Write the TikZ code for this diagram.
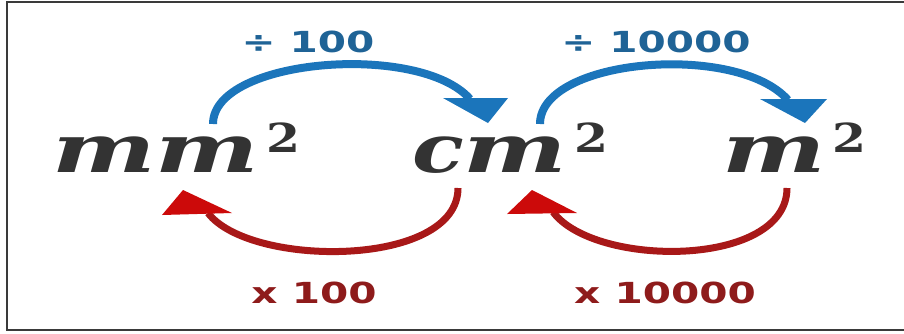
\documentclass[tikz,border=0pt]{standalone}
\usepackage{fontspec}
\newfontfamily\lblfont{DejaVu Sans}
\newfontfamily\unitfont{DejaVu Serif}
\definecolor{unitgray}{HTML}{333333}
\definecolor{arcblue}{HTML}{1B75BB}
\definecolor{txtblue}{HTML}{1F6396}
\definecolor{arcred}{HTML}{A81818}
\definecolor{headred}{HTML}{CC0A0A}
\definecolor{txtred}{HTML}{8E1B1B}
\definecolor{framecol}{HTML}{3A3A3A}
\newcommand\sqtwo{\hspace{7pt}\raisebox{20pt}{\scalebox{1.22}[1]{\fontsize{40}{40}\selectfont\bfseries\upshape 2}}}
\newcommand\mw{\scalebox{1.46}[1]{m}}
\newcommand\cw{\scalebox{1.27}[1]{c}}
\tikzset{
  unit/.style={inner sep=0pt, outer sep=0pt, anchor=base west, text=unitgray,
    font=\unitfont\fontsize{67}{67}\selectfont\bfseries\itshape},
  lbl/.style={inner sep=0pt, outer sep=0pt, anchor=base,
    font=\lblfont\bfseries\fontsize{29}{29}\selectfont},
  bluearc/.style={draw=arcblue, line width=8pt, line cap=butt},
  redarc/.style={draw=arcred, line width=7pt, line cap=butt},
  bluehead/.style={fill=arcblue},
  redhead/.style={fill=headred}
}
\begin{document}
\begin{tikzpicture}[x=1pt,y=-1pt]
\useasboundingbox (0,0) rectangle (904,333);
\draw[framecol, line width=2pt] (904,1.5) -- (6.5,1.5) -- (6.5,330) -- (904,330);

% units
\node[unit] (mm) at (52,172) {\mw\mw\sqtwo};
\node[unit] (cm) at (412,172) {\cw\mw\sqtwo};
\node[unit] (m)  at (722,172) {\mw\sqtwo};

% labels
\node[lbl, text=txtblue] (d100)   at (308,52)  {\scalebox{1.4}[1]{÷ 100}};
\node[lbl, text=txtblue] (d10000) at (656,52)  {\scalebox{1.4}[1]{÷ 10000}};
\node[lbl, text=txtred]  (x100)   at (314,303) {\scalebox{1.4}[1]{x 100}};
\node[lbl, text=txtred]  (x10000) at (665,303) {\scalebox{1.4}[1]{x 10000}};

% blue arcs
\coordinate (b1s) at (213,124);
\coordinate (b1e) at (470,99);
\draw[bluearc] (b1s) .. controls (213,58) and (420,42) .. (b1e);
\fill[bluehead] (443,98) -- (508,98) -- (488,123) -- cycle;

\coordinate (b2s) at (540,124);
\coordinate (b2e) at (788,100);
\draw[bluearc] (b2s) .. controls (540,58) and (737,42) .. (b2e);
\fill[bluehead] (760,99) -- (827,99) -- (805,123) -- cycle;

% red arcs
\coordinate (r1s) at (458,188);
\coordinate (r1e) at (208,213);
\draw[redarc] (r1s) .. controls (458,268) and (250,268) .. (r1e);
\fill[redhead] (183,190) -- (162,215) -- (232,213) -- cycle;

\coordinate (r2s) at (787,188);
\coordinate (r2e) at (553,212);
\draw[redarc] (r2s) .. controls (787,268) and (595,268) .. (r2e);
\fill[redhead] (532,190) -- (507,214) -- (577,213) -- cycle;
\end{tikzpicture}
\end{document}
